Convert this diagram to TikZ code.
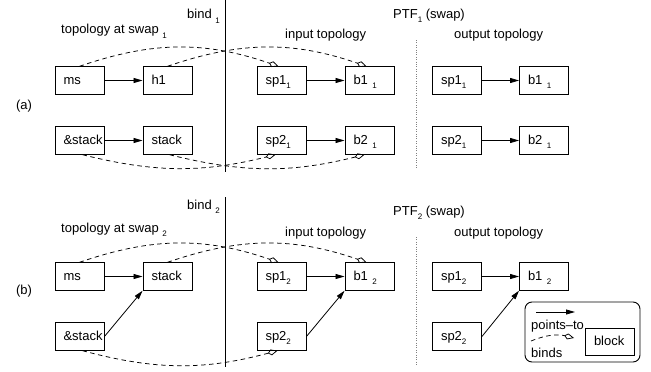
\documentclass[tikz,border=0pt]{standalone}
\usepackage{fontspec}
\setmainfont{Liberation Sans}
\usetikzlibrary{arrows.meta}
\newcommand\lsub[1]{\raisebox{-4.5pt}[0pt][0pt]{\fontsize{8}{8}\selectfont #1}}
\begin{document}
\begin{tikzpicture}[x=1pt,y=-1pt, font=\fontsize{13}{15}\selectfont,
  blk/.style={draw, line width=0.9pt, text width=32pt, inner xsep=8.5pt, inner ysep=0pt,
    align=left, minimum height=27.5pt, text height=9.5pt, text depth=2.5pt},
  pt/.style={-{Triangle[length=9pt,width=5pt]}, line width=0.8pt},
  bd/.style={line width=0.75pt, dash pattern=on 4.5pt off 3.5pt,
    -{Kite[open,length=10pt,width=6pt,inset=3.5pt,line width=0.75pt]}},
  lbl/.style={inner sep=0pt, anchor=base west},
  sep/.style={line width=1pt},
  dot/.style={line width=1pt, dash pattern=on 0.8pt off 1.6pt, gray}]
\useasboundingbox (0,0) rectangle (651,372);

% ---------- panel (a) ----------
\node[lbl] (bindA) at (187,19) {bind \lsub{1}};
\node[lbl] (ptfA) at (393,18) {PTF\lsub{1} (swap)};
\node[lbl] (topA) at (61,34) {topology at swap \lsub{1}};
\node[lbl] (inA) at (285,38) {input topology};
\node[lbl] (outA) at (454,38) {output topology};
\node (labA) at (24,106) {(a)};
\coordinate (vA1) at (225,0);
\coordinate (vA2) at (225,172);
\draw[sep] (vA1) -- (vA2);
\coordinate (dA1) at (416,40);
\coordinate (dA2) at (416,168);
\draw[dot] (dA1) -- (dA2);

\node[blk] (msA) at (79.5,80.5) {ms};
\node[blk] (h1A) at (167.5,80.5) {h1};
\node[blk] (asA) at (79.5,140.5) {\&stack};
\node[blk] (stA) at (167.5,140.5) {stack};
\node[blk] (sp1A) at (281.5,80.5) {sp1\lsub{1}};
\node[blk] (b1A) at (369.5,80.5) {b1 \lsub{1}};
\node[blk] (sp2A) at (281.5,140.5) {sp2\lsub{1}};
\node[blk] (b2A) at (369.5,140.5) {b2 \lsub{1}};
\node[blk] (osp1A) at (457,80.5) {sp1\lsub{1}};
\node[blk] (ob1A) at (544,80.5) {b1 \lsub{1}};
\node[blk] (osp2A) at (457,140.5) {sp2\lsub{1}};
\node[blk] (ob2A) at (544,140.5) {b2 \lsub{1}};

\draw[pt] (msA) -- (h1A);
\draw[pt] (asA) -- (stA);
\draw[pt] (sp1A) -- (b1A);
\draw[pt] (sp2A) -- (b2A);
\draw[pt] (osp1A) -- (ob1A);
\draw[pt] (osp2A) -- (ob2A);

\draw[bd] (msA.north) to[bend left=19] ([xshift=-3pt]sp1A.north);
\draw[bd] (h1A.north) to[bend left=19] ([xshift=-3pt]b1A.north);
\draw[bd] ([xshift=3pt]asA.south) to[bend right=14] ([xshift=-6pt]sp2A.south);
\draw[bd] ([xshift=2pt]stA.south) to[bend right=14] ([xshift=-5pt]b2A.south);

% ---------- panel (b) ----------
\node[lbl] (bindB) at (187,209) {bind \lsub{2}};
\node[lbl] (ptfB) at (393,215) {PTF\lsub{2} (swap)};
\node[lbl] (topB) at (61,232) {topology at swap \lsub{2}};
\node[lbl] (inB) at (285,236) {input topology};
\node[lbl] (outB) at (454,236) {output topology};
\node (labB) at (24,291) {(b)};
\coordinate (vB1) at (225,197);
\coordinate (vB2) at (225,367);
\draw[sep] (vB1) -- (vB2);
\coordinate (dB1) at (416,237);
\coordinate (dB2) at (416,365);
\draw[dot] (dB1) -- (dB2);

\node[blk] (msB) at (79.5,276.5) {ms};
\node[blk] (stB) at (167.5,276.5) {stack};
\node[blk] (asB) at (79.5,336.5) {\&stack};
\node[blk] (sp1B) at (281.5,276.5) {sp1\lsub{2}};
\node[blk] (b1B) at (369.5,276.5) {b1 \lsub{2}};
\node[blk] (sp2B) at (281.5,336.5) {sp2\lsub{2}};
\node[blk] (osp1B) at (457,276.5) {sp1\lsub{2}};
\node[blk] (ob1B) at (544,276.5) {b1 \lsub{2}};
\node[blk] (osp2B) at (457,336.5) {sp2\lsub{2}};

\draw[pt] (msB) -- (stB);
\draw[pt] (asB.east) -- (stB.south west);
\draw[pt] (sp1B) -- (b1B);
\draw[pt] (sp2B.east) -- (b1B.south west);
\draw[pt] (osp1B) -- (ob1B);
\draw[pt] (osp2B.east) -- (ob1B.south west);

\draw[bd] (msB.north) to[bend left=19] ([xshift=-3pt]sp1B.north);
\draw[bd] (stB.north) to[bend left=19] ([xshift=-3pt]b1B.north);
\draw[bd] ([xshift=3pt]asB.south) to[bend right=15] ([xshift=-4pt]sp2B.south);

% ---------- legend ----------
\node[draw, line width=0.9pt, rounded corners=7pt, minimum width=115pt, minimum height=60pt, inner sep=0pt] (leg) at (582.5,332) {};
\coordinate (lp1) at (536,312);
\coordinate (lp2) at (575,312);
\draw[pt] (lp1) -- (lp2);
\node[lbl] (lpt) at (531,329) {points--to};
\coordinate (lb1) at (531,341);
\coordinate (lb2) at (574,338);
\draw[bd] (lb1) to[bend left=18] (lb2);
\node[lbl] (lbd) at (531,357) {binds};
\node[blk] (lblk) at (610,342) {block};
\end{tikzpicture}
\end{document}
